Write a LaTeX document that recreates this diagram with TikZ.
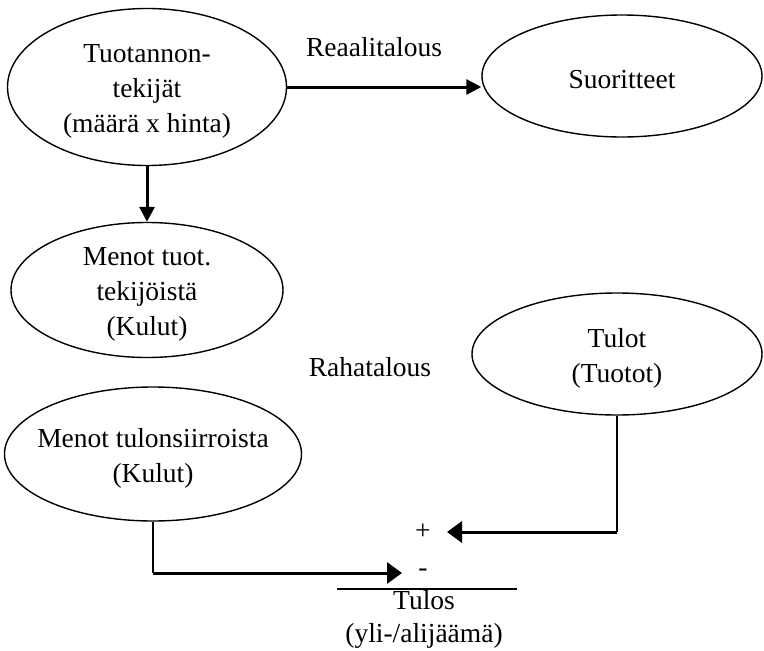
\documentclass[tikz,border=0pt]{standalone}
\usepackage{fontspec}
\setmainfont{Liberation Serif}
\usetikzlibrary{shapes.geometric,arrows.meta}

\begin{document}
\begin{tikzpicture}[x=1pt, y=-1pt, every node/.style={font=\fontsize{27.5}{35}\selectfont},
  oval/.style={draw, ellipse, line width=1.4pt, inner sep=0pt},
  txt/.style={align=center, inner sep=0pt},
  intxt/.style={txt, yshift=-4pt},
  arr/.style={-{Triangle[length=15pt,width=15pt]}, line width=3pt},
  wide arr/.style={-{Triangle[length=15pt,width=21pt]}, line width=3pt},
  link/.style={line width=1.6pt}]
\useasboundingbox (0,0) rectangle (764,651);
% reaalitalous
\node[oval, minimum width=279pt, minimum height=157pt,
  label={[intxt, name=tekijat-t]center:Tuotannon-\\tekijät\\(määrä x hinta)}] (tekijat) at (147,87) {};
\node[oval, minimum width=280pt, minimum height=122pt,
  label={[intxt, name=suor-t]center:Suoritteet}] (suor) at (622,76) {};
\node[txt] (reaali) at (374,47) {Reaalitalous};
% rahatalous
\node[oval, minimum width=272pt, minimum height=135pt,
  label={[intxt, name=menot1-t]center:Menot tuot.\\tekijöistä\\(Kulut)}] (menot1) at (147,290) {};
\node[oval, minimum width=290pt, minimum height=122pt,
  label={[intxt, name=tulot-t]center:Tulot\\(Tuotot)}] (tulot) at (617,354) {};
\node[oval, minimum width=297pt, minimum height=134pt,
  label={[intxt, name=menot2-t]center:Menot tulonsiirroista\\(Kulut)}] (menot2) at (153,454) {};
\node[txt] (raha) at (370,367) {Rahatalous};
% tulos
\node[txt] (plus) at (423,532) {+};
\node[txt] (minus) at (423,573) {-};
\node[txt, font=\fontsize{27.5}{33}\selectfont] (tulos) at (424,619) {Tulos\\(yli-/alijäämä)};
\coordinate (plusin) at (447,532);
\coordinate (minusin) at (402,573);
\draw[link] (337,589) -- (517,589);

\draw[arr] (tekijat.east) -- (tekijat.east -| suor.west);
\draw[arr] (tekijat) -- (menot1);
\draw[link] (tulot.south) -- (tulot.south |- plusin) coordinate (tulotk);
\draw[wide arr] (tulotk) -- (plusin);
\draw[link] (menot2.south) -- (menot2.south |- minusin) coordinate (menotk);
\draw[wide arr] (menotk) -- (minusin);
\end{tikzpicture}
\end{document}
